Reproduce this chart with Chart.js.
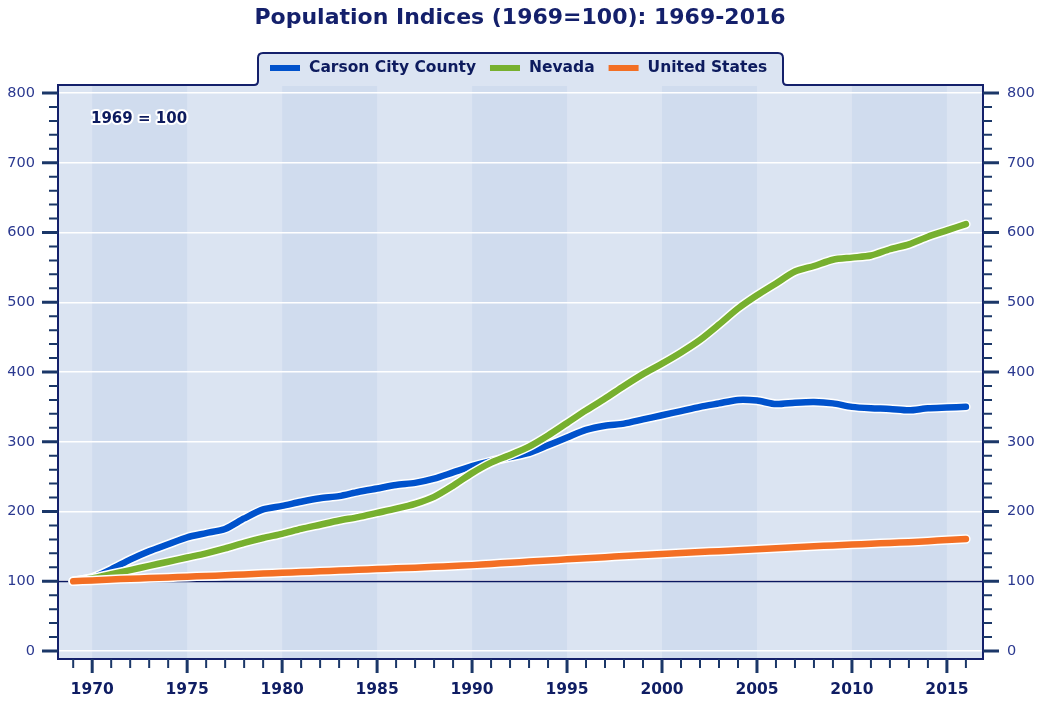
<!DOCTYPE html>
<html>
<head>
<meta charset="utf-8">
<title>Population Indices (1969=100): 1969-2016</title>
<script src="https://cdn.jsdelivr.net/npm/chart.js@4.4.1/dist/chart.umd.min.js"></script>
<style>
  body { margin: 0; background: #ffffff; }
  #chart { display: block; }
</style>
</head>
<body>
<canvas id="chart" width="1040" height="702"></canvas>
<script>
const years = [
    1969, 1970, 1971, 1972, 1973, 1974, 1975, 1976, 1977, 1978,
    1979, 1980, 1981, 1982, 1983, 1984, 1985, 1986, 1987, 1988,
    1989, 1990, 1991, 1992, 1993, 1994, 1995, 1996, 1997, 1998,
    1999, 2000, 2001, 2002, 2003, 2004, 2005, 2006, 2007, 2008,
    2009, 2010, 2011, 2012, 2013, 2014, 2015, 2016
];
const carsonCity = [
    100, 105, 117, 131, 143, 153, 163, 169, 175, 190,
    203, 208, 214, 219, 222, 228, 233, 238, 241, 247,
    256, 265, 272, 278, 284, 295, 306, 317, 323, 326,
    332, 338, 344, 350, 355, 360, 359, 354, 356, 357,
    355, 350, 348, 347, 345, 348, 349, 350
];
const nevada = [
    100, 104, 110, 116, 122, 128, 134, 140, 147, 155,
    162, 168, 175, 181, 187, 192, 198, 204, 211, 221,
    237, 255, 270, 281, 293, 309, 327, 345, 362, 380,
    397, 412, 428, 446, 468, 491, 510, 527, 544, 552,
    561, 564, 567, 576, 583, 594, 603, 612
];
const unitedStates = [
    100, 101.2, 102.5, 103.6, 104.5, 105.5, 106.6, 107.5, 108.6, 109.8,
    111.0, 112.1, 113.2, 114.3, 115.3, 116.3, 117.4, 118.5, 119.5, 120.6,
    121.8, 123.1, 124.8, 126.5, 128.2, 129.8, 131.4, 132.9, 134.5, 136.1,
    137.6, 139.2, 140.6, 141.9, 143.1, 144.5, 145.8, 147.2, 148.6, 150.0,
    151.4, 152.6, 153.7, 154.9, 155.9, 157.5, 159.0, 160.5
];
const xTicks = [1970, 1975, 1980, 1985, 1990, 1995, 2000, 2005, 2010, 2015];
const yTicks = [0, 100, 200, 300, 400, 500, 600, 700, 800];

const seriesNames = ['Carson City County', 'Nevada', 'United States'];
const seriesColors = ['#0052cc', '#77b02f', '#f36f24'];
const seriesValues = [carsonCity, nevada, unitedStates];

const NAVY = '#14206b';
const TICK = '#1b3768';
const BG_LIGHT = '#dbe4f2';
const BG_DARK = '#d0dcee';

const toPoints = (vals) => years.map((yr, i) => ({ x: yr, y: vals[i] }));

// each series gets a white halo line drawn right under it
const datasets = [];
seriesValues.forEach((vals, i) => {
    datasets.push({
        label: seriesNames[i] + ' halo',
        halo: true,
        data: toPoints(vals),
        borderColor: '#ffffff',
        borderWidth: 9.5,
        order: 10 - i * 2
    });
    datasets.push({
        label: seriesNames[i],
        data: toPoints(vals),
        borderColor: seriesColors[i],
        borderWidth: 6.5,
        order: 9 - i * 2
    });
});

const backdrop = {
    id: 'backdrop',
    beforeDraw(chart) {
        const { ctx, chartArea: a, scales: { x } } = chart;
        ctx.save();
        ctx.fillStyle = BG_LIGHT;
        ctx.fillRect(a.left, a.top, a.right - a.left, a.bottom - a.top);
        ctx.fillStyle = BG_DARK;
        for (let yr = 1970; yr < 2016; yr += 10) {
            const x0 = x.getPixelForValue(yr);
            const x1 = x.getPixelForValue(yr + 5);
            ctx.fillRect(x0, a.top, x1 - x0, a.bottom - a.top);
        }
        ctx.restore();
    },
    beforeDatasetsDraw(chart) {
        const { ctx, chartArea: a, scales: { y } } = chart;
        const py = Math.round(y.getPixelForValue(100)) + 0.5;
        ctx.save();
        ctx.strokeStyle = '#0a1760';
        ctx.lineWidth = 1.5;
        ctx.beginPath();
        ctx.moveTo(a.left, py);
        ctx.lineTo(a.right, py);
        ctx.stroke();
        ctx.restore();
    }
};

const frame = {
    id: 'frame',
    afterDraw(chart) {
        const { ctx, chartArea: a, scales: { x, y } } = chart;
        const tabL = 258, tabR = 783, tabT = 53;
        ctx.save();

        // legend tab
        ctx.beginPath();
        ctx.moveTo(tabL - 4, a.top + 1);
        ctx.quadraticCurveTo(tabL, a.top, tabL, a.top - 4);
        ctx.lineTo(tabL, tabT + 5);
        ctx.quadraticCurveTo(tabL, tabT, tabL + 5, tabT);
        ctx.lineTo(tabR - 5, tabT);
        ctx.quadraticCurveTo(tabR, tabT, tabR, tabT + 5);
        ctx.lineTo(tabR, a.top - 4);
        ctx.quadraticCurveTo(tabR, a.top, tabR + 4, a.top + 1);
        ctx.closePath();
        ctx.fillStyle = BG_LIGHT;
        ctx.fill();

        // frame outline with tab
        ctx.beginPath();
        ctx.moveTo(a.left, a.top);
        ctx.lineTo(tabL - 4, a.top);
        ctx.quadraticCurveTo(tabL, a.top, tabL, a.top - 4);
        ctx.lineTo(tabL, tabT + 5);
        ctx.quadraticCurveTo(tabL, tabT, tabL + 5, tabT);
        ctx.lineTo(tabR - 5, tabT);
        ctx.quadraticCurveTo(tabR, tabT, tabR, tabT + 5);
        ctx.lineTo(tabR, a.top - 4);
        ctx.quadraticCurveTo(tabR, a.top, tabR + 4, a.top);
        ctx.lineTo(a.right, a.top);
        ctx.lineTo(a.right, a.bottom);
        ctx.lineTo(a.left, a.bottom);
        ctx.closePath();
        ctx.strokeStyle = NAVY;
        ctx.lineWidth = 2;
        ctx.stroke();

        // legend entries
        ctx.font = 'bold 15.5px "DejaVu Sans"';
        ctx.textBaseline = 'middle';
        let lx = 270;
        const ly = 68;
        seriesNames.forEach((name, i) => {
            ctx.fillStyle = seriesColors[i];
            ctx.fillRect(lx, ly - 3, 30, 6);
            ctx.fillStyle = '#0d1b5e';
            ctx.fillText(name, lx + 39, ly);
            lx += 39 + ctx.measureText(name).width + 14;
        });

        // y tick marks, both sides
        ctx.strokeStyle = TICK;
        for (let v = 0; v <= 800; v += 20) {
            const py = y.getPixelForValue(v);
            const major = v % 100 === 0;
            ctx.lineWidth = major ? 3 : 2;
            ctx.beginPath();
            ctx.moveTo(a.left - (major ? 16 : 9), py);
            ctx.lineTo(a.left, py);
            ctx.moveTo(a.right, py);
            ctx.lineTo(a.right + (major ? 16 : 9), py);
            ctx.stroke();
        }

        // x tick marks
        years.forEach((yr) => {
            const px = x.getPixelForValue(yr);
            const major = yr % 5 === 0;
            ctx.lineWidth = major ? 3 : 2;
            ctx.beginPath();
            ctx.moveTo(px, a.bottom);
            ctx.lineTo(px, a.bottom + (major ? 14 : 9));
            ctx.stroke();
        });

        // base year note
        ctx.font = 'bold 15px "DejaVu Sans"';
        ctx.textAlign = 'left';
        ctx.lineJoin = 'round';
        ctx.strokeStyle = '#ffffff';
        ctx.lineWidth = 4;
        ctx.strokeText('1969 = 100', 91, 119);
        ctx.fillStyle = '#0d1b5e';
        ctx.fillText('1969 = 100', 91, 119);

        ctx.restore();
    }
};

Chart.defaults.font.family = '"DejaVu Sans", sans-serif';

const yScale = (position, width, padding) => ({
    position: position,
    min: -11.5,
    max: 811.5,
    afterBuildTicks: (s) => { s.ticks = yTicks.map(v => ({ value: v })); },
    afterFit: (s) => { s.width = width; },
    grid: { display: position === 'left', color: '#ffffff', lineWidth: 1.5, drawTicks: false },
    border: { display: false },
    ticks: { padding: padding, color: '#2b3990', font: { size: 14.5 } }
});

const ctx = document.getElementById('chart').getContext('2d');
new Chart(ctx, {
    type: 'line',
    data: { datasets: datasets },
    options: {
        responsive: false,
        animation: false,
        events: [],
        layout: { padding: 0 },
        elements: {
            point: { radius: 0 },
            line: { tension: 0.25, borderCapStyle: 'round', borderJoinStyle: 'round', fill: false }
        },
        plugins: {
            legend: { display: false },
            tooltip: { enabled: false },
            title: {
                display: true,
                text: 'Population Indices (1969=100): 1969-2016',
                color: NAVY,
                font: { size: 22, weight: 'bold' },
                padding: { top: 5, bottom: 53.6 }
            }
        },
        scales: {
            x: {
                type: 'linear',
                min: 1968.2,
                max: 2016.9,
                afterBuildTicks: (s) => { s.ticks = xTicks.map(v => ({ value: v })); },
                afterFit: (s) => { s.height = 43; },
                grid: { display: false, drawTicks: false },
                border: { display: false },
                ticks: {
                    padding: 22,
                    color: '#0f1d63',
                    font: { size: 15.5, weight: 'bold' },
                    maxRotation: 0,
                    callback: (v) => String(v)
                }
            },
            y: yScale('left', 58, 23),
            y2: yScale('right', 57, 24)
        }
    },
    plugins: [backdrop, frame]
});
</script>
</body>
</html>
